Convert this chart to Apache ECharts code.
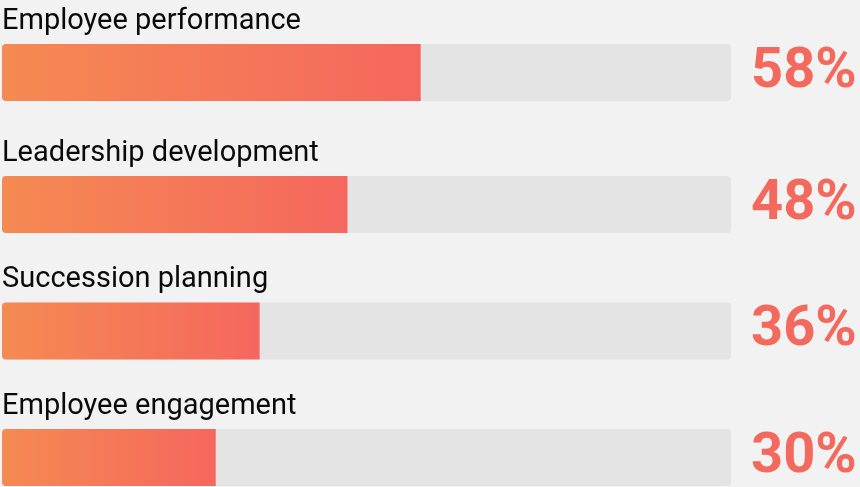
<!DOCTYPE html>
<html>
<head>
<meta charset="utf-8">
<style>
  html, body { margin: 0; padding: 0; background: #f2f2f2; }
  #chart { width: 860px; height: 487px; }
</style>
<script src="https://cdn.jsdelivr.net/npm/echarts@6/dist/echarts.min.js"></script>
</head>
<body>
<div id="chart"></div>
<script>
const categories = ['Employee performance', 'Leadership development', 'Succession planning', 'Employee engagement'];
const values = [58, 48, 36, 30];
const trackMax = 100.4;

const gridTops = [44, 176, 302.5, 429];
const barH = 57;

const chart = echarts.init(document.getElementById('chart'), null, { renderer: 'canvas' });

const grids = [], xAxes = [], yAxes = [], series = [];
categories.forEach((cat, i) => {
  grids.push({ left: 2, width: 729, top: gridTops[i], height: barH, containLabel: false });
  xAxes.push({ type: 'value', gridIndex: i, min: 0.8, max: trackMax, show: false });
  yAxes.push({ type: 'category', gridIndex: i, data: [cat], show: false });
  series.push({
    type: 'bar', xAxisIndex: i, yAxisIndex: i, barWidth: barH, barGap: '-100%',
    silent: true, animation: false, z: 1,
    data: [trackMax],
    itemStyle: { color: '#e3e4e3', borderRadius: 4 },
    label: {
      show: true, position: 'right', distance: 20,
      formatter: () => values[i] + '%',
      fontFamily: 'Roboto', fontWeight: 'bold', fontSize: 56, color: '#f4695d'
    }
  });
  series.push({
    type: 'bar', xAxisIndex: i, yAxisIndex: i, barWidth: barH, barGap: '-100%',
    silent: true, animation: false, z: 2,
    data: [values[i]],
    itemStyle: {
      borderRadius: [4, 0, 0, 4],
      color: new echarts.graphic.LinearGradient(0, 0, 1, 0, [
        { offset: 0, color: '#f58a52' },
        { offset: 1, color: '#f5675e' }
      ])
    },
    label: {
      show: true, position: [0, -8], align: 'left', verticalAlign: 'bottom',
      formatter: () => cat,
      fontFamily: 'Roboto', fontSize: 29, color: '#0a0a0a'
    }
  });
});

chart.setOption({
  backgroundColor: '#f2f2f2',
  animation: false,
  grid: grids,
  xAxis: xAxes,
  yAxis: yAxes,
  series: series
});
</script>
</body>
</html>
